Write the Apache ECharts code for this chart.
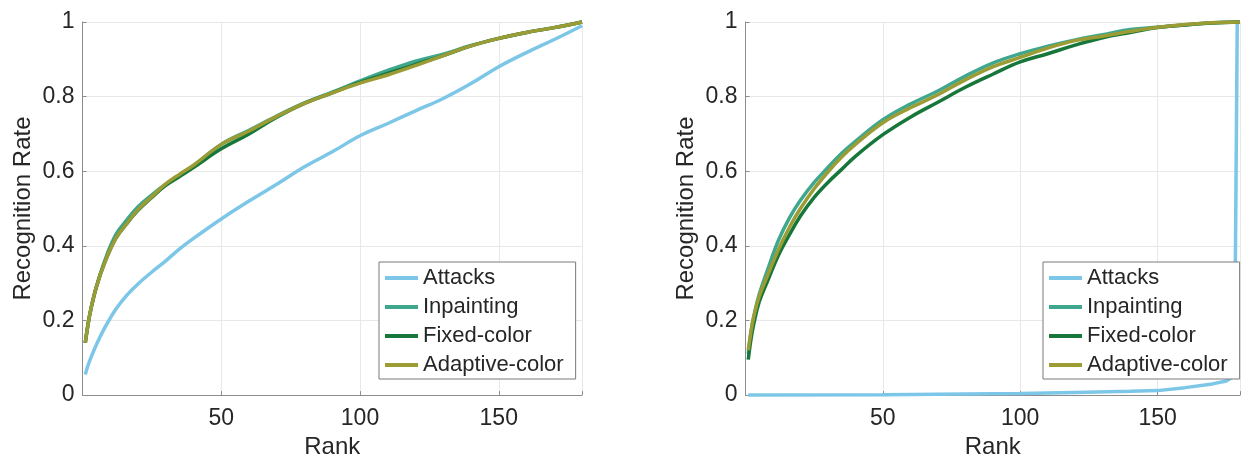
<!DOCTYPE html>
<html>
<head>
<meta charset="utf-8">
<script src="https://cdn.jsdelivr.net/npm/echarts@6/dist/echarts.min.js"></script>
<style>html,body{margin:0;padding:0;background:#fff;}#c{width:1243px;height:464px;}</style>
</head>
<body>
<div id="c"></div>
<script>
// ---- data ----
const seriesNames = ['Attacks', 'Inpainting', 'Fixed-color', 'Adaptive-color'];
const ranks = [1, 2, 3, 5, 8, 12, 16, 20, 25, 30, 35, 40, 50, 60, 70, 80, 90, 100, 110, 120, 130, 140, 150, 160, 170, 180];

const leftAttacks     = [0.055, 0.08, 0.10, 0.135, 0.18, 0.23, 0.268, 0.298, 0.33, 0.36, 0.392, 0.42, 0.472, 0.52, 0.565, 0.612, 0.652, 0.695, 0.728, 0.762, 0.795, 0.835, 0.88, 0.918, 0.953, 0.99];
const leftInpainting  = [0.14, 0.19, 0.23, 0.29, 0.36, 0.43, 0.47, 0.505, 0.537, 0.565, 0.59, 0.615, 0.672, 0.71, 0.748, 0.783, 0.812, 0.842, 0.87, 0.895, 0.914, 0.937, 0.956, 0.972, 0.985, 1.0];
const leftFixed       = [0.14, 0.19, 0.23, 0.29, 0.355, 0.42, 0.46, 0.495, 0.53, 0.562, 0.586, 0.61, 0.66, 0.70, 0.745, 0.782, 0.81, 0.838, 0.862, 0.886, 0.91, 0.936, 0.956, 0.972, 0.985, 1.0];
const leftAdaptive    = [0.14, 0.19, 0.23, 0.29, 0.355, 0.42, 0.46, 0.497, 0.532, 0.566, 0.592, 0.616, 0.672, 0.708, 0.747, 0.782, 0.81, 0.836, 0.858, 0.883, 0.91, 0.936, 0.956, 0.972, 0.985, 1.0];

const rightInpainting = [0.11, 0.17, 0.21, 0.27, 0.335, 0.415, 0.475, 0.522, 0.57, 0.61, 0.648, 0.68, 0.738, 0.78, 0.815, 0.855, 0.89, 0.915, 0.935, 0.952, 0.966, 0.98, 0.986, 0.992, 0.998, 1.0];
const rightFixed      = [0.095, 0.15, 0.19, 0.25, 0.305, 0.375, 0.43, 0.48, 0.53, 0.57, 0.605, 0.64, 0.698, 0.745, 0.785, 0.825, 0.86, 0.893, 0.915, 0.938, 0.958, 0.972, 0.985, 0.992, 0.997, 1.0];
const rightAdaptive   = [0.12, 0.17, 0.21, 0.265, 0.32, 0.39, 0.45, 0.50, 0.553, 0.598, 0.638, 0.672, 0.73, 0.77, 0.805, 0.845, 0.88, 0.905, 0.93, 0.95, 0.962, 0.975, 0.986, 0.993, 0.998, 1.0];
const rightAttackRanks = [1, 50, 100, 120, 140, 150, 160, 170, 175, 177, 178, 179, 180];
const rightAttacks     = [0.0, 0.001, 0.004, 0.007, 0.01, 0.012, 0.02, 0.03, 0.038, 0.047, 0.06, 1.0, 1.0];

const xTicks = [50, 100, 150];
const yTicks = [0, 0.2, 0.4, 0.6, 0.8, 1];

// ---- styles ----
const colors = ['#7cc6e7', '#3fa78e', '#17773a', '#9c9c35'];
const font = 'Liberation Sans, Arial, Helvetica, sans-serif';
const textColor = '#262626';
const axisColor = '#8c8c8c';
const gridColor = '#e8e8e8';

function pairs(xs, ys) { return xs.map((x, i) => [x, ys[i]]); }

function xAxis(gridIndex) {
  return {
    type: 'value', gridIndex, min: 0, max: 180, interval: 50,
    name: 'Rank', nameLocation: 'middle', nameGap: 38,
    nameTextStyle: { fontFamily: font, fontSize: 24, color: textColor },
    axisLine: { show: true, lineStyle: { color: axisColor, width: 1 } },
    axisTick: { show: true, inside: true, length: 4, lineStyle: { color: axisColor } },
    axisLabel: {
      margin: 12, fontFamily: font, fontSize: 23, color: textColor,
      formatter: v => (xTicks.indexOf(v) >= 0 ? String(v) : '')
    },
    splitLine: { show: true, lineStyle: { color: gridColor, width: 1 } }
  };
}
function yAxis(gridIndex) {
  return {
    type: 'value', gridIndex, min: 0, max: 1, interval: 0.2,
    name: 'Recognition Rate', nameLocation: 'middle', nameGap: 47, nameRotate: 90,
    nameTextStyle: { fontFamily: font, fontSize: 24, color: textColor },
    axisLine: { show: true, lineStyle: { color: axisColor, width: 1 } },
    axisTick: { show: true, inside: true, length: 4, lineStyle: { color: axisColor } },
    axisLabel: {
      margin: 8, fontFamily: font, fontSize: 23, color: textColor,
      formatter: v => { const t = yTicks.find(k => Math.abs(k - v) < 1e-9); return t === undefined ? '' : String(t); }
    },
    splitLine: { show: true, lineStyle: { color: gridColor, width: 1 } }
  };
}
function line(name, idx, data, smooth) {
  return {
    name, type: 'line', xAxisIndex: idx, yAxisIndex: idx, data,
    showSymbol: false, symbol: 'none', smooth: smooth, clip: false,
    lineStyle: { color: colors[seriesNames.indexOf(name)], width: 3.5 },
    itemStyle: { color: colors[seriesNames.indexOf(name)] },
    emphasis: { disabled: true }, animation: false
  };
}
function legend(left) {
  return {
    left, top: 262, orient: 'vertical',
    data: seriesNames,
    icon: 'rect', itemWidth: 33, itemHeight: 4, itemGap: 7,
    padding: [5, 12, 3, 6],
    backgroundColor: '#ffffff', borderColor: '#7a7a7a', borderWidth: 1, borderRadius: 0,
    textStyle: { fontFamily: font, fontSize: 22, color: textColor, lineHeight: 22 },
    selectedMode: false
  };
}

const chart = echarts.init(document.getElementById('c'), null, { renderer: 'canvas' });
chart.setOption({
  backgroundColor: '#ffffff',
  animation: false,
  grid: [
    { left: 82.5, top: 22, width: 499.5, height: 374 },
    { left: 745.5, top: 22, width: 499.5, height: 374 }
  ],
  xAxis: [xAxis(0), xAxis(1)],
  yAxis: [yAxis(0), yAxis(1)],
  legend: [legend(379), legend(1043)],
  series: [
    line('Attacks', 0, pairs(ranks, leftAttacks), 0.4),
    line('Inpainting', 0, pairs(ranks, leftInpainting), 0.4),
    line('Fixed-color', 0, pairs(ranks, leftFixed), 0.4),
    line('Adaptive-color', 0, pairs(ranks, leftAdaptive), 0.4),
    line('Attacks', 1, pairs(rightAttackRanks, rightAttacks), false),
    line('Inpainting', 1, pairs(ranks, rightInpainting), 0.4),
    line('Fixed-color', 1, pairs(ranks, rightFixed), 0.4),
    line('Adaptive-color', 1, pairs(ranks, rightAdaptive), 0.4)
  ]
});
</script>
</body>
</html>
